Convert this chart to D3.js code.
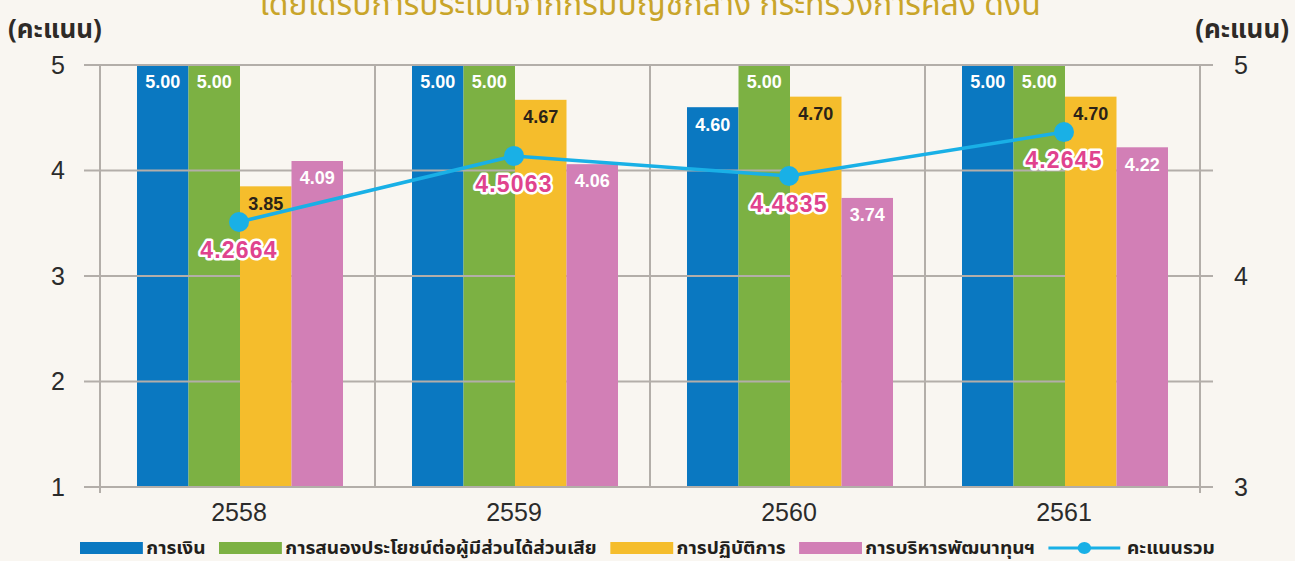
<!DOCTYPE html>
<html>
  <head>
    <meta charset="UTF-8" />
    <script src="https://cdn.jsdelivr.net/npm/d3@7"></script>
    <style>
      body { margin: 0; background: #f9f6f1; }
      svg { display: block; }
    </style>
  </head>
  <body>
    <svg></svg>
    <script>
      // data
      const years = ['2558', '2559', '2560', '2561'];
      const series = [
        'การเงิน',
        'การสนองประโยชน์ต่อผู้มีส่วนได้ส่วนเสีย',
        'การปฏิบัติการ',
        'การบริหารพัฒนาทุนฯ'
      ];
      const finance = [5.0, 5.0, 4.6, 5.0];
      const stakeholder = [5.0, 5.0, 5.0, 5.0];
      const operation = [3.85, 4.67, 4.7, 4.7];
      const capital = [4.09, 4.06, 3.74, 4.22];
      // total score: plotted position (right axis) and its printed label
      const totalScore = [4.256, 4.569, 4.474, 4.682];
      const totalLabels = ['4.2664', '4.5063', '4.4835', '4.2645'];
      const totalName = 'คะแนนรวม';
      const leftTicks = [1, 2, 3, 4, 5];
      const rightTicks = [3, 4, 5];
      const unitLabel = '(คะแนน)';
      const title = 'โดยได้รับการประเมินจากกรมบัญชีกลาง กระทรวงการคลัง ดังนี้';

      const values = [finance, stakeholder, operation, capital];
      const colors = ['#0a78c1', '#7cb143', '#f5bd2c', '#d27fb6'];
      const labelColors = ['#ffffff', '#ffffff', '#2a2218', '#ffffff'];
      const lineColor = '#19b0e6';
      const gridColor = '#b3aea9';
      const numFont = '"Liberation Sans", Arial, sans-serif';
      const thaiFont = '"Noto Sans Thai", Loma, Garuda, "Liberation Sans", sans-serif';

      const width = 1295;
      const height = 561;
      const margin = { top: 65, right: 95, bottom: 74, left: 100 };

      const svg = d3.select('svg').attr('width', width).attr('height', height);
      svg.append('rect').attr('width', width).attr('height', height).attr('fill', '#f9f6f1');

      const x = d3.scaleBand().domain(years).range([margin.left, width - margin.right]);
      const xs = d3.scaleBand().domain(series).range([37, 243]);
      const y = d3.scaleLinear().domain([1, 5]).range([height - margin.bottom, margin.top]);
      const y2 = d3.scaleLinear().domain([3, 5]).range([height - margin.bottom, margin.top]);
      const x0 = margin.left;
      const x1 = width - margin.right;
      const yb = y(1);

      const rows = [];
      years.forEach((yr, i) =>
        series.forEach((s, j) => rows.push({ yr, s, j, v: values[j][i] }))
      );

      // title (cut off at the top, as in the source)
      svg.append('text')
        .attr('x', 650).attr('y', 15)
        .attr('text-anchor', 'middle')
        .attr('font-family', thaiFont)
        .attr('font-size', 32)
        .attr('fill', '#c9a52a')
        .text(title);

      // bars under the grid (first two series)
      const drawBars = (g, data) =>
        g.selectAll('rect')
          .data(data)
          .join('rect')
          .attr('x', (d) => x(d.yr) + xs(d.s))
          .attr('width', xs.bandwidth())
          .attr('y', (d) => y(d.v))
          .attr('height', (d) => yb - y(d.v))
          .attr('fill', (d) => colors[d.j]);

      drawBars(svg.append('g'), rows.filter((d) => d.j < 2));

      // grid
      const grid = svg.append('g').attr('stroke', gridColor).attr('stroke-width', 2);
      grid.selectAll('line.h')
        .data(leftTicks)
        .join('line')
        .attr('class', 'h')
        .attr('x1', x0 - 16).attr('x2', x1 + 13)
        .attr('y1', (d) => y(d)).attr('y2', (d) => y(d));
      grid.selectAll('line.v')
        .data(years.slice(1))
        .join('line')
        .attr('class', 'v')
        .attr('x1', (d) => x(d)).attr('x2', (d) => x(d))
        .attr('y1', y(5)).attr('y2', yb);

      drawBars(svg.append('g'), rows.filter((d) => d.j >= 2));

      // axes frame
      const frame = svg.append('g').attr('stroke', gridColor).attr('stroke-width', 2);
      frame.append('line').attr('x1', x0).attr('x2', x0).attr('y1', y(5)).attr('y2', yb + 6);
      frame.append('line').attr('x1', x1).attr('x2', x1).attr('y1', y(5)).attr('y2', yb + 6);
      frame.append('line').attr('x1', x0 - 16).attr('x2', x1 + 13).attr('y1', yb).attr('y2', yb);

      // tick labels
      const tickText = (g) =>
        g.attr('font-family', numFont).attr('font-size', 25).attr('fill', '#2b2b2b');
      svg.append('g').call(tickText)
        .selectAll('text').data(leftTicks).join('text')
        .attr('x', 58).attr('y', (d) => y(d)).attr('dy', '0.35em')
        .attr('text-anchor', 'middle').text((d) => d);
      svg.append('g').call(tickText)
        .selectAll('text').data(rightTicks).join('text')
        .attr('x', 1241).attr('y', (d) => y2(d)).attr('dy', '0.35em')
        .attr('text-anchor', 'middle').text((d) => d);
      svg.append('g').call(tickText)
        .selectAll('text').data(years).join('text')
        .attr('x', (d) => x(d) + 139).attr('y', yb + 25).attr('dy', '0.35em')
        .attr('text-anchor', 'middle').text((d) => d);

      // unit labels
      [[8, 'start'], [1289, 'end']].forEach(([ux, anchor]) =>
        svg.append('text')
          .attr('x', ux).attr('y', 29).attr('dy', '0.35em')
          .attr('text-anchor', anchor)
          .attr('font-family', thaiFont).attr('font-weight', 'bold')
          .attr('font-size', 26).attr('fill', '#2e2a27')
          .text(unitLabel)
      );

      // bar value labels
      svg.append('g')
        .attr('font-family', numFont).attr('font-weight', 'bold').attr('font-size', 18)
        .attr('text-anchor', 'middle')
        .selectAll('text').data(rows).join('text')
        .attr('x', (d) => x(d.yr) + xs(d.s) + xs.bandwidth() / 2)
        .attr('y', (d) => y(d.v) + 17).attr('dy', '0.35em')
        .attr('fill', (d) => labelColors[d.j])
        .text((d) => d3.format('.2f')(d.v));

      // total score line
      const cx = (i) => x(years[i]) + 139;
      const line = d3.line().x((d, i) => cx(i)).y((d) => y2(d));
      svg.append('path')
        .datum(totalScore)
        .attr('d', line)
        .attr('fill', 'none')
        .attr('stroke', lineColor)
        .attr('stroke-width', 3.5);
      svg.append('g').selectAll('circle').data(totalScore).join('circle')
        .attr('cx', (d, i) => cx(i)).attr('cy', (d) => y2(d))
        .attr('r', 10).attr('fill', lineColor);
      svg.append('g')
        .attr('font-family', numFont).attr('font-weight', 'bold').attr('font-size', 23)
        .attr('letter-spacing', 1.2)
        .attr('text-anchor', 'middle')
        .selectAll('text').data(totalScore).join('text')
        .attr('x', (d, i) => cx(i)).attr('y', (d) => y2(d) + 28).attr('dy', '0.35em')
        .attr('fill', '#e0438e')
        .attr('stroke', '#ffffff').attr('stroke-width', 5)
        .attr('stroke-linejoin', 'round')
        .attr('paint-order', 'stroke')
        .text((d, i) => totalLabels[i]);

      // legend
      const legend = svg.append('g');
      let lx = 0;
      const legendItems = series.map((s, j) => ({ name: s, color: colors[j] }))
        .concat([{ name: totalName, color: lineColor, line: true }]);
      legendItems.forEach((it) => {
        const g = legend.append('g').attr('transform', `translate(${lx},0)`);
        if (it.line) {
          g.append('line').attr('x1', 0).attr('x2', 64).attr('y1', 0).attr('y2', 0)
            .attr('stroke', it.color).attr('stroke-width', 3);
          g.append('circle').attr('cx', 32).attr('r', 6).attr('fill', it.color);
        } else {
          g.append('rect').attr('x', 0).attr('y', -6).attr('width', 56).attr('height', 12)
            .attr('fill', it.color);
        }
        const t = g.append('text')
          .attr('x', it.line ? 70 : 59).attr('dy', '0.35em')
          .attr('font-family', thaiFont).attr('font-weight', 'bold')
          .attr('font-size', 17).attr('fill', '#231f1c')
          .text(it.name);
        lx += (it.line ? 70 : 59) + t.node().getComputedTextLength() + 12;
      });
      const lw = lx - 12;
      const target = 1215 - 80;
      legend.attr('transform', `translate(80,548) scale(${target / lw},1)`);
    </script>
  </body>
</html>
